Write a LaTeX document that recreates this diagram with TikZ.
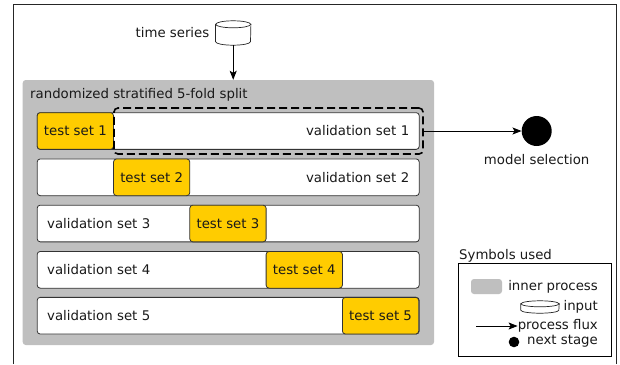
\documentclass[tikz,border=0pt]{standalone}
\usepackage{fontspec}
\setmainfont{DejaVu Sans}
\usetikzlibrary{arrows.meta,positioning}
\definecolor{innergray}{HTML}{BFBFBF}
\definecolor{testyellow}{HTML}{FFCC00}

\begin{document}
\begin{tikzpicture}[x=1pt,y=-1pt]
\tikzstyle{every node}+=[font=\fontsize{13.3}{16}\selectfont, text=black!90]
\tikzstyle{fold}=[draw=black!80, line width=0.8pt, fill=white, rounded corners=3pt, text width=362pt, inner xsep=10pt, inner ysep=0pt, minimum height=36.7pt]
\tikzstyle{testset}=[draw=black!80, line width=0.8pt, fill=testyellow, rounded corners=3pt, minimum width=76.3pt, minimum height=36.7pt, inner sep=0pt, anchor=west]
\tikzstyle{store}=[inner sep=0pt]
\tikzstyle{storeline}=[draw=black!85, line width=0.7pt, fill=white]
\tikzstyle{flux}=[-{Stealth[length=9pt,width=7pt,inset=2pt]}, line width=0.8pt]
\useasboundingbox (0,0) rectangle (620,364);
\draw [black!85, line width=1pt] (13,364) -- (13,4) -- (616,4) -- (616,364);
\node [store, minimum width=35pt, minimum height=24pt, label={[inner sep=0pt, label distance=6pt]west:time series}] (series) at (233.2,33) {};
\draw [storeline] ([yshift=-3.5pt]series.north west) -- ([yshift=3.5pt]series.south west) arc [start angle=180, end angle=0, x radius=17.5, y radius=3.5] -- ([yshift=-3.5pt]series.north east) -- cycle;
\draw [storeline] ([yshift=-3.5pt]series.north) ellipse [x radius=17.5, y radius=3.5];
\node [fill=innergray, rounded corners=3pt, minimum width=411.3pt, minimum height=265pt, inner sep=0pt] (split) at (228.35,212.5) {};
\node [anchor=west, inner sep=0pt] (splitname) at (30,95) {randomized stratified 5-fold split};
\draw [flux] (series.south) -- (series.south |- split.north);
\node [fold, align=right] (fold1) at (228.2,131) {validation set 1};
\node [fold, align=right] (fold2) at (228.2,177.3) {validation set 2};
\node [fold, align=left] (fold3) at (228.2,223.5) {validation set 3};
\node [fold, align=left] (fold4) at (228.2,269.8) {validation set 4};
\node [fold, align=left] (fold5) at (228.2,315.7) {validation set 5};
\node [testset] (test1) at (fold1.west) {test set 1};
\node [testset] (test2) at ([xshift=76.3pt]fold2.west) {test set 2};
\node [testset] (test3) at ([xshift=152.6pt]fold3.west) {test set 3};
\node [testset] (test4) at ([xshift=228.9pt]fold4.west) {test set 4};
\node [testset] (test5) at ([xshift=305.2pt]fold5.west) {test set 5};
\node [draw, line width=1.6pt, dash pattern=on 8pt off 4pt, rounded corners=4pt, minimum width=309pt, minimum height=46pt, inner sep=0pt] (best) at (268.5,131) {};
\node [circle, fill=black, minimum size=30pt, inner sep=0pt, label={[inner sep=0pt, label distance=8pt]below:model selection}] (select) at (536.7,131) {};
\draw [flux] (best.east) -- (select.west);
\node [anchor=west, inner sep=0pt] (symtitle) at (459,256) {Symbols used};
\node [draw, line width=0.8pt, fill=white, minimum width=153.4pt, minimum height=92.7pt, inner sep=0pt] (legend) at (535,309.7) {};
\node [fill=innergray, rounded corners=3pt, minimum width=31pt, minimum height=15pt, inner sep=0pt] (keyproc) at (486.5,286.5) {};
\node [anchor=east, inner sep=0pt] (keyproctext) at (598,286.7) {inner process};
\node [store, minimum width=38pt, minimum height=12pt] (keyinput) at (540,307) {};
\draw [storeline] ([yshift=-3pt]keyinput.north west) -- ([yshift=3pt]keyinput.south west) arc [start angle=180, end angle=0, x radius=19, y radius=3] -- ([yshift=-3pt]keyinput.north east) -- cycle;
\draw [storeline] ([yshift=-3pt]keyinput.north) ellipse [x radius=19, y radius=3];
\node [anchor=east, inner sep=0pt] (keyinputtext) at (598,307) {input};
\coordinate (keytail) at (476,326);
\node [anchor=east, inner sep=0pt] (keyflux) at (598,326) {process flux};
\draw [flux] (keytail) -- (keyflux.west);
\node [circle, fill=black, minimum size=10.6pt, inner sep=0pt] (keystage) at (514,342) {};
\node [anchor=east, inner sep=0pt] (keystagetext) at (598,341.5) {next stage};
\end{tikzpicture}
\end{document}
